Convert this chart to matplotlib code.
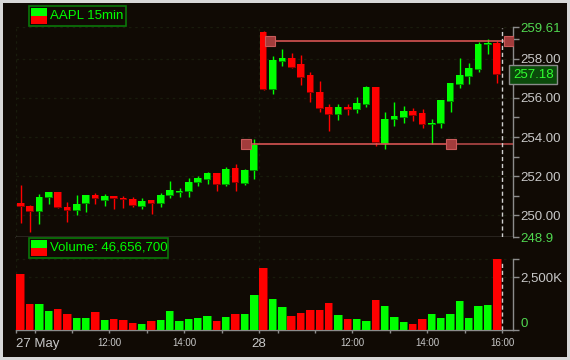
import matplotlib
matplotlib.use("Agg")
import matplotlib.pyplot as plt
from matplotlib.patches import Rectangle
import numpy as np

# AAPL 15 minute bars, 27 May 09:30 .. 28 May 15:45
opens = [250.62, 250.48, 250.16, 250.87, 251.19, 250.43, 250.23, 250.57, 251.04, 250.75,
         250.99, 250.89, 250.84, 250.43, 250.79, 250.57, 251.01, 251.16, 251.17, 251.67,
         251.82, 252.16, 251.53, 252.42, 251.62, 252.25,
         259.35, 256.42, 257.84, 258.01, 257.71, 257.15, 256.28, 255.53, 255.14, 255.55,
         255.36, 255.62, 256.54, 253.64, 254.86, 254.96, 255.35, 255.21, 254.62, 254.64,
         255.76, 256.65, 257.06, 257.42, 258.69, 258.77]
highs = [251.55, 250.53, 251.11, 251.19, 251.19, 250.68, 251.04, 251.04, 251.16, 251.11,
         250.99, 251.01, 250.92, 250.90, 250.79, 251.16, 251.75, 251.41, 251.90, 252.01,
         252.23, 252.16, 252.47, 252.64, 252.37, 253.89,
         259.40, 258.11, 258.47, 258.30, 258.16, 257.32, 256.84, 255.67, 255.67, 255.67,
         256.03, 256.59, 256.54, 255.26, 255.77, 255.59, 255.47, 255.42, 254.94, 255.87,
         256.74, 258.01, 257.76, 258.83, 258.98, 258.89]
lows = [249.63, 249.17, 249.58, 250.60, 250.36, 249.68, 250.02, 250.19, 250.58, 250.48,
        250.33, 250.40, 250.41, 250.35, 250.09, 250.45, 250.90, 250.96, 250.96, 251.52,
        251.62, 251.25, 251.51, 251.25, 251.55, 251.86,
        256.42, 256.20, 257.62, 257.54, 256.64, 255.79, 255.26, 254.30, 254.87, 255.11,
        255.21, 255.52, 253.55, 253.38, 254.55, 254.70, 254.82, 254.47, 253.64, 254.48,
        255.28, 256.50, 256.70, 257.32, 258.23, 256.76]
closes = [250.41, 250.16, 250.94, 251.19, 250.36, 250.21, 250.58, 251.04, 250.82, 250.99,
          250.82, 250.77, 250.46, 250.74, 250.57, 251.04, 251.29, 251.24, 251.69, 251.91,
          252.16, 251.53, 252.37, 251.64, 252.31, 253.59,
          256.42, 257.91, 258.01, 257.54, 257.03, 256.26, 255.45, 255.14, 255.52, 255.38,
          255.72, 256.54, 253.67, 254.91, 255.06, 255.31, 255.08, 254.59, 254.70, 255.87,
          256.74, 257.15, 257.50, 258.72, 258.77, 257.18]
volumes_k = [2626, 1219, 1219, 891, 985, 750, 563, 563, 844, 469,
             516, 469, 328, 281, 422, 469, 891, 422, 516, 563,
             657, 422, 610, 750, 750, 1641,
             2908, 1454, 1079, 657, 797, 938, 938, 1266, 704, 516,
             516, 422, 1407, 1126, 610, 375, 281, 516, 750, 563,
             750, 1360, 563, 1126, 1172, 3330]

price_min, price_max = 248.9, 259.61
price_ticks = [250, 252, 254, 256, 258]
price_minor = [251, 253, 255, 257, 259]
last_price = 257.18

# drawn range lines: (x start, x marker 2, level)
range_lines = [(26.73, 52.25, 258.92), (24.06, 46.06, 253.63)]

# hour boundaries on the bar axis
time_major = [-0.5, 9.5, 17.5, 25.5, 35.5, 43.5, 51.5]
time_labels = ["27 May", "12:00", "14:00", "28", "12:00", "14:00", "16:00"]
time_minor = [1.5, 5.5, 13.5, 21.5, 27.5, 31.5, 39.5, 47.5]
day_starts = [-0.5, 25.5]

W, H = 570, 360
BG = "#100a04"
GREEN, RED = "#00ff00", "#ff0000"
DGREEN, DRED = "#008a00", "#8a0000"
GRID = "#191c0c"
AXC = "#8c8c8c"
TXT = "#c8c8c8"
LIM = "#50d850"
FONT = "Liberation Sans"

o = np.array(opens); c = np.array(closes)
hi = np.array(highs); lo = np.array(lows)
vol = np.array(volumes_k)
x = np.arange(len(o))
up = c >= o
col = np.where(up, GREEN, RED)
dcol = np.where(up, DGREEN, DRED)

fig = plt.figure(figsize=(W / 100, H / 100), dpi=100, facecolor="#d8d8d8")
fig.patches.append(Rectangle((3 / W, 3 / H), 564 / W, 354 / H, transform=fig.transFigure,
                             fc=BG, ec="none", zorder=-10))

ax = fig.add_axes([16 / W, 1 - 237 / H, 497 / W, 210 / H], facecolor=BG)
axv = fig.add_axes([16 / W, 1 - 330 / H, 497 / W, 93 / H], facecolor=BG)

xmin, xmax = -0.5, 52.68
for a in (ax, axv):
    a.set_xlim(xmin, xmax)
    for s in ("left", "top"):
        a.spines[s].set_visible(False)
    for s in ("right", "bottom"):
        a.spines[s].set_color(AXC)
        a.spines[s].set_linewidth(1)
    for d in day_starts:
        a.axvline(d, color=GRID, lw=0.9, ls=(0, (2, 3)), zorder=1)

# ---- price panel
ax.set_ylim(price_min, price_max)
for lv in price_ticks + [price_max]:
    ax.axhline(lv, color=GRID, lw=0.9, ls=(0, (2, 3)), zorder=1)

px_x = (xmax - xmin) / 497.0
px_y = (price_max - price_min) / 210.0
bw = 0.82
body_lo = np.minimum(o, c)
body_h = np.maximum(np.abs(c - o), 1.5 * px_y)
ax.vlines(x, lo, hi, colors=col, lw=1.0, zorder=2)
ax.bar(x - bw / 2, body_h, bottom=body_lo, width=bw, align="edge", color=dcol, lw=0, zorder=3)
ax.bar(x - bw / 2, body_h - px_y, bottom=body_lo + px_y, width=bw - px_x, align="edge",
       color=col, lw=0, zorder=4)

for x0, x1, lv in range_lines:
    ax.plot([x0, x1], [lv, lv], color="#e85a5a", lw=1.1, zorder=5)
    ax.plot([x1, xmax], [lv, lv], color="#c04c4c", lw=1.1, zorder=5)
    ax.plot([x0, x1], [lv, lv], ls="none", marker="s", ms=6.5, mfc="#a33c3c",
            mec="#c85a5a", mew=0.8, zorder=6)

ax.axvline(51.5, color="#d0d0d0", lw=1, ls=(0, (3, 2)), ymax=0.995, zorder=7)

ax.yaxis.tick_right()
ax.set_xticks([])
ax.set_yticks([price_min] + price_ticks + [price_max])
ax.set_yticklabels(["248.9"] + ["%.2f" % t for t in price_ticks] + ["259.61"])
ax.set_yticks(price_minor, minor=True)
ax.tick_params(axis="y", which="both", direction="out", length=4, width=1, color=AXC,
               pad=1.5, labelsize=9.5, labelcolor=TXT)
for t in ax.get_yticklabels():
    t.set_fontfamily(FONT)
lbls = ax.get_yticklabels()
lbls[0].set_color(LIM)
lbls[-1].set_color(LIM)

ax.text(1.0, last_price, "%.2f" % last_price, transform=ax.get_yaxis_transform(),
        ha="left", va="center", color="#30ff30", fontsize=9.5, family=FONT, zorder=10,
        bbox=dict(boxstyle="square,pad=0.28", fc="#0b4a0b", ec="#8a8a8a", lw=1),
        clip_on=False)

# ---- volume panel
vtop = 4360
axv.set_ylim(0, vtop)
for lv in [2500, vol.max()]:
    axv.axhline(lv, color=GRID, lw=0.9, ls=(0, (2, 3)), zorder=1)
vb = 0.9
axv.bar(x - vb / 2, vol, width=vb, align="edge", color=dcol, lw=0, zorder=3)
axv.bar(x - vb / 2, vol, width=vb - px_x, align="edge", color=col, lw=0, zorder=4)
axv.axvline(51.5, color="#d0d0d0", lw=1, ls=(0, (3, 2)), ymax=0.73, zorder=7)

axv.spines["right"].set_bounds(0, vol.max())
axv.yaxis.tick_right()
axv.set_yticks([0, 2500])
axv.set_yticklabels(["0", "2,500K"])
axv.set_yticks([vol.max()], minor=True)
axv.tick_params(axis="y", which="both", direction="out", length=4, width=1, color=AXC,
                pad=1.5, labelsize=9.5, labelcolor=TXT)
vl = axv.get_yticklabels()
for t in vl:
    t.set_fontfamily(FONT)
vl[0].set_color(LIM)
vl[0].set_va("bottom")

axv.set_xticks(time_major)
axv.set_xticklabels(time_labels)
axv.set_xticks(time_minor, minor=True)
axv.tick_params(axis="x", which="both", direction="out", length=2.5, width=1, color=AXC,
                pad=3, labelcolor=TXT)
for t, s in zip(axv.get_xticklabels(), time_labels):
    t.set_fontfamily(FONT)
    if ":" in s:
        t.set_fontsize(7)
    else:
        t.set_fontsize(9.5)
axv.get_xticklabels()[0].set_ha("left")


# ---- legends in pixel coordinates
def fx(p):
    return p / W


def fy(p):
    return 1 - p / H


def legend_box(x0, y0, x1, y1, label):
    fig.patches.append(Rectangle((fx(x0), fy(y1)), (x1 - x0) / W, (y1 - y0) / H,
                                 transform=fig.transFigure, fc=BG, ec="#0a780a", lw=1.2,
                                 zorder=20))
    fig.patches.append(Rectangle((fx(x0 + 2), fy(y0 + 10)), 16 / W, 8 / H,
                                 transform=fig.transFigure, fc=GREEN, ec="none", zorder=21))
    fig.patches.append(Rectangle((fx(x0 + 2), fy(y1 - 1.5)), 16 / W, 8 / H,
                                 transform=fig.transFigure, fc=RED, ec="none", zorder=21))
    fig.text(fx(x0 + 21), fy((y0 + y1) / 2), label, color=GREEN, fontsize=9.5, family=FONT,
             va="center", ha="left", zorder=22)


legend_box(29, 6, 125.5, 25.5, "AAPL 15min")
legend_box(29, 238, 168, 257.5, "Volume: 46,656,700")

fig.savefig("out.png", dpi=100, facecolor=fig.get_facecolor())
